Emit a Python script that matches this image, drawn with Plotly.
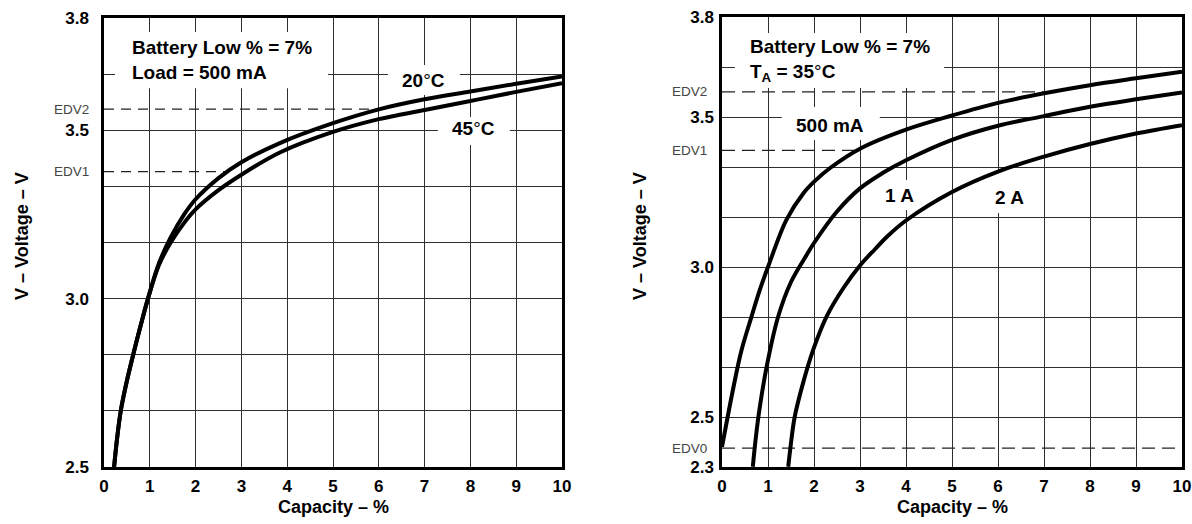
import numpy as np
import plotly.graph_objects as go

# ---------------- data ----------------
# Left chart: Battery Low % = 7 %, Load = 500 mA
cap_20 = [0.22, 0.29, 0.37, 0.49, 0.64, 0.80, 0.96, 1.20, 1.45, 1.75, 2.0, 2.5, 3.0, 3.84, 5.0, 6.0, 7.0, 8.0, 9.0, 10.0]
v_20 = [2.50, 2.59, 2.67, 2.75, 2.835, 2.92, 3.00, 3.105, 3.18, 3.25, 3.295, 3.358, 3.405, 3.462, 3.521, 3.562, 3.592, 3.615, 3.638, 3.660]
cap_45 = [0.22, 0.29, 0.37, 0.49, 0.64, 0.80, 0.96, 1.20, 1.45, 1.75, 2.0, 2.5, 3.0, 3.84, 5.0, 6.0, 7.0, 8.0, 9.0, 10.0]
v_45 = [2.50, 2.59, 2.67, 2.75, 2.835, 2.92, 3.00, 3.10, 3.165, 3.225, 3.265, 3.322, 3.368, 3.434, 3.495, 3.533, 3.560, 3.587, 3.614, 3.640]
edv_left_names = ["EDV2", "EDV1"]
edv_left_values = [3.563, 3.377]

# Right chart: Battery Low % = 7 %, TA = 35 C
cap_500 = [0.0, 0.25, 0.42, 0.64, 0.82, 1.0, 1.40, 1.77, 2.02, 2.35, 3.02, 4.0, 5.0, 6.0, 7.0, 8.0, 9.0, 10.0]
v_500 = [2.40, 2.60, 2.72, 2.834, 2.923, 3.0, 3.157, 3.246, 3.287, 3.33, 3.396, 3.458, 3.505, 3.547, 3.579, 3.606, 3.629, 3.651]
cap_1a = [0.67, 0.72, 0.80, 0.97, 1.22, 1.50, 1.80, 2.0, 2.5, 3.0, 3.5, 4.0, 5.0, 6.0, 7.0, 8.0, 9.0, 10.0]
v_1a = [2.334, 2.41, 2.51, 2.667, 2.834, 2.95, 3.03, 3.08, 3.185, 3.262, 3.314, 3.356, 3.424, 3.471, 3.503, 3.534, 3.559, 3.582]
cap_2a = [1.44, 1.49, 1.58, 1.76, 1.98, 2.27, 2.64, 3.0, 3.33, 3.58, 4.0, 5.0, 6.0, 7.0, 8.0, 9.0, 10.0]
v_2a = [2.334, 2.401, 2.50, 2.612, 2.723, 2.834, 2.93, 3.005, 3.06, 3.10, 3.155, 3.250, 3.318, 3.368, 3.410, 3.445, 3.473]
edv_right_names = ["EDV2", "EDV1", "EDV0"]
edv_right_values = [3.584, 3.389, 2.396]

x_tick_labels = ["0", "1", "2", "3", "4", "5", "6", "7", "8", "9", "10"]
left_y_labels = ["2.5", "3.0", "3.5", "3.8"]
right_y_labels = ["2.3", "2.5", "3.0", "3.5", "3.8"]

# ---------------- figure ----------------
W, H = 1192, 524
FONT = "Arial, Liberation Sans, sans-serif"
GRID = "#2e2e2e"
DEG = "<span style='font-weight:normal'>°</span>"

fig = go.Figure()

def curve(x, y, xa, ya):
    fig.add_trace(go.Scatter(x=x, y=y, mode="lines", xaxis=xa, yaxis=ya,
                             line=dict(color="black", width=4, shape="spline", smoothing=1.0),
                             hoverinfo="skip", showlegend=False))

curve(cap_20, v_20, "x", "y")
curve(cap_45, v_45, "x", "y")
curve(cap_500, v_500, "x2", "y2")
curve(cap_1a, v_1a, "x2", "y2")
curve(cap_2a, v_2a, "x2", "y2")

step = 1 / 6                      # grid spacing of the voltage axis
left_lo, left_hi = 2.5, 2.5 + 8 * step
right_lo, right_hi = 2.5 - step, 2.5 + 8 * step
left_y_vals = [2.5, 3.0, 3.5, left_hi]
right_y_vals = [right_lo, 2.5, 3.0, 3.5, right_hi]

TICKFONT = dict(family=FONT, size=17, color="black", weight="bold")

def xax(domain, anchor):
    return dict(domain=domain, range=[0, 10], tickvals=list(range(11)), ticktext=x_tick_labels,
                anchor=anchor, automargin=False,
                showgrid=True, gridcolor=GRID, gridwidth=1, zeroline=False,
                showline=True, mirror=True, linecolor="black", linewidth=2.5,
                ticks="", ticklabelstandoff=2, tickfont=TICKFONT, fixedrange=True)

def yax(domain, rng, vals, labels, anchor, standoff):
    return dict(domain=domain, range=rng, tickvals=vals, ticktext=labels, anchor=anchor,
                automargin=False,
                showgrid=True, gridcolor=GRID, gridwidth=1, zeroline=False,
                minor=dict(tick0=rng[0], dtick=step, showgrid=True, gridcolor=GRID, gridwidth=1, ticks=""),
                showline=True, mirror=True, linecolor="black", linewidth=2.5,
                ticks="", ticklabelstandoff=standoff, tickfont=TICKFONT, fixedrange=True)

ybot = (H - 467) / H
fig.update_layout(
    width=W, height=H, margin=dict(l=0, r=0, t=0, b=0),
    paper_bgcolor="white", plot_bgcolor="white", showlegend=False, hovermode=False,
    xaxis=xax([104 / W, 562 / W], "y"),
    yaxis=yax([ybot, (H - 18) / H], [left_lo, left_hi], left_y_vals, left_y_labels, "x", 9),
    xaxis2=xax([722 / W, 1182 / W], "y2"),
    yaxis2=yax([ybot, (H - 17) / H], [right_lo, right_hi], right_y_vals, right_y_labels, "x2", 2),
)

shapes = []
annotations = []

def white_box(xr, yr, x0, x1, y0, y1):
    shapes.append(dict(type="rect", xref=xr, yref=yr, x0=x0, x1=x1, y0=y0, y1=y1,
                       fillcolor="white", line=dict(width=0), layer="between"))

def label(xr, yr, x, y, text, xanchor="center", size=19):
    annotations.append(dict(xref=xr, yref=yr, x=x, y=y, text=text, showarrow=False,
                            xanchor=xanchor, yanchor="middle", align="left",
                            font=dict(family=FONT, size=size, color="black", weight="bold")))

# left chart label boxes and texts
white_box("x", "y", 0.24, 4.89, 3.625, 3.792)
label("x", "y", 0.57, 3.708, "Battery Low % = 7%<br>Load = 500 mA", xanchor="left")
white_box("x", "y", 6.2, 7.77, 3.605, 3.694)
label("x", "y", 6.97, 3.649, "20" + DEG + "C")
white_box("x", "y", 7.29, 8.86, 3.456, 3.539)
label("x", "y", 8.06, 3.504, "45" + DEG + "C")

# right chart label boxes and texts
white_box("x2", "y2", 0.28, 4.83, 3.597, 3.78)
label("x2", "y2", 0.57, 3.69, "Battery Low % = 7%<br>T<sub>A</sub> = 35" + DEG + "C", xanchor="left")
white_box("x2", "y2", 1.30, 3.43, 3.423, 3.533)
label("x2", "y2", 2.35, 3.473, "500 mA")
white_box("x2", "y2", 3.43, 4.26, 3.19, 3.29)
label("x2", "y2", 3.85, 3.24, "1 A")
white_box("x2", "y2", 5.83, 6.70, 3.18, 3.313)
label("x2", "y2", 6.24, 3.233, "2 A")

# EDV dashed lines, ending where they meet the reference curve
def edv(xr, yr, name, value, x_end, dash):
    shapes.append(dict(type="line", xref=xr, yref=yr, x0=0, x1=x_end, y0=value, y1=value,
                       line=dict(color="#222222", width=1.3, dash=dash), layer="between"))
    annotations.append(dict(xref=xr + " domain", yref=yr, x=0, y=value, text=name, showarrow=False,
                            xanchor="right", yanchor="middle", xshift=-13,
                            font=dict(family=FONT, size=13.5, color="#444444")))

for n, v in zip(edv_left_names, edv_left_values):
    edv("x", "y", n, v, float(np.interp(v, v_20, cap_20)), "10px,7px")
for n, v in zip(edv_right_names, edv_right_values):
    end = float(np.interp(v, v_500, cap_500)) if v > v_500[0] else 10
    edv("x2", "y2", n, v, end, "13px,7px")

# axis titles
for xc in [333 / W, 952 / W]:
    annotations.append(dict(xref="paper", yref="paper", x=xc, y=(H - 507) / H, text="Capacity – %",
                            showarrow=False, xanchor="center", yanchor="middle",
                            font=dict(family=FONT, size=18, color="black", weight="bold")))
for xc in [22 / W, 640 / W]:
    annotations.append(dict(xref="paper", yref="paper", x=xc, y=(H - 236) / H, text="V – Voltage – V",
                            showarrow=False, xanchor="center", yanchor="middle", textangle=-90,
                            font=dict(family=FONT, size=18, color="black", weight="bold")))

fig.update_layout(shapes=shapes, annotations=annotations)
fig.write_html("out.html", config={"displayModeBar": False},
               post_script="document.body.style.margin='0';document.body.style.overflow='hidden';")
